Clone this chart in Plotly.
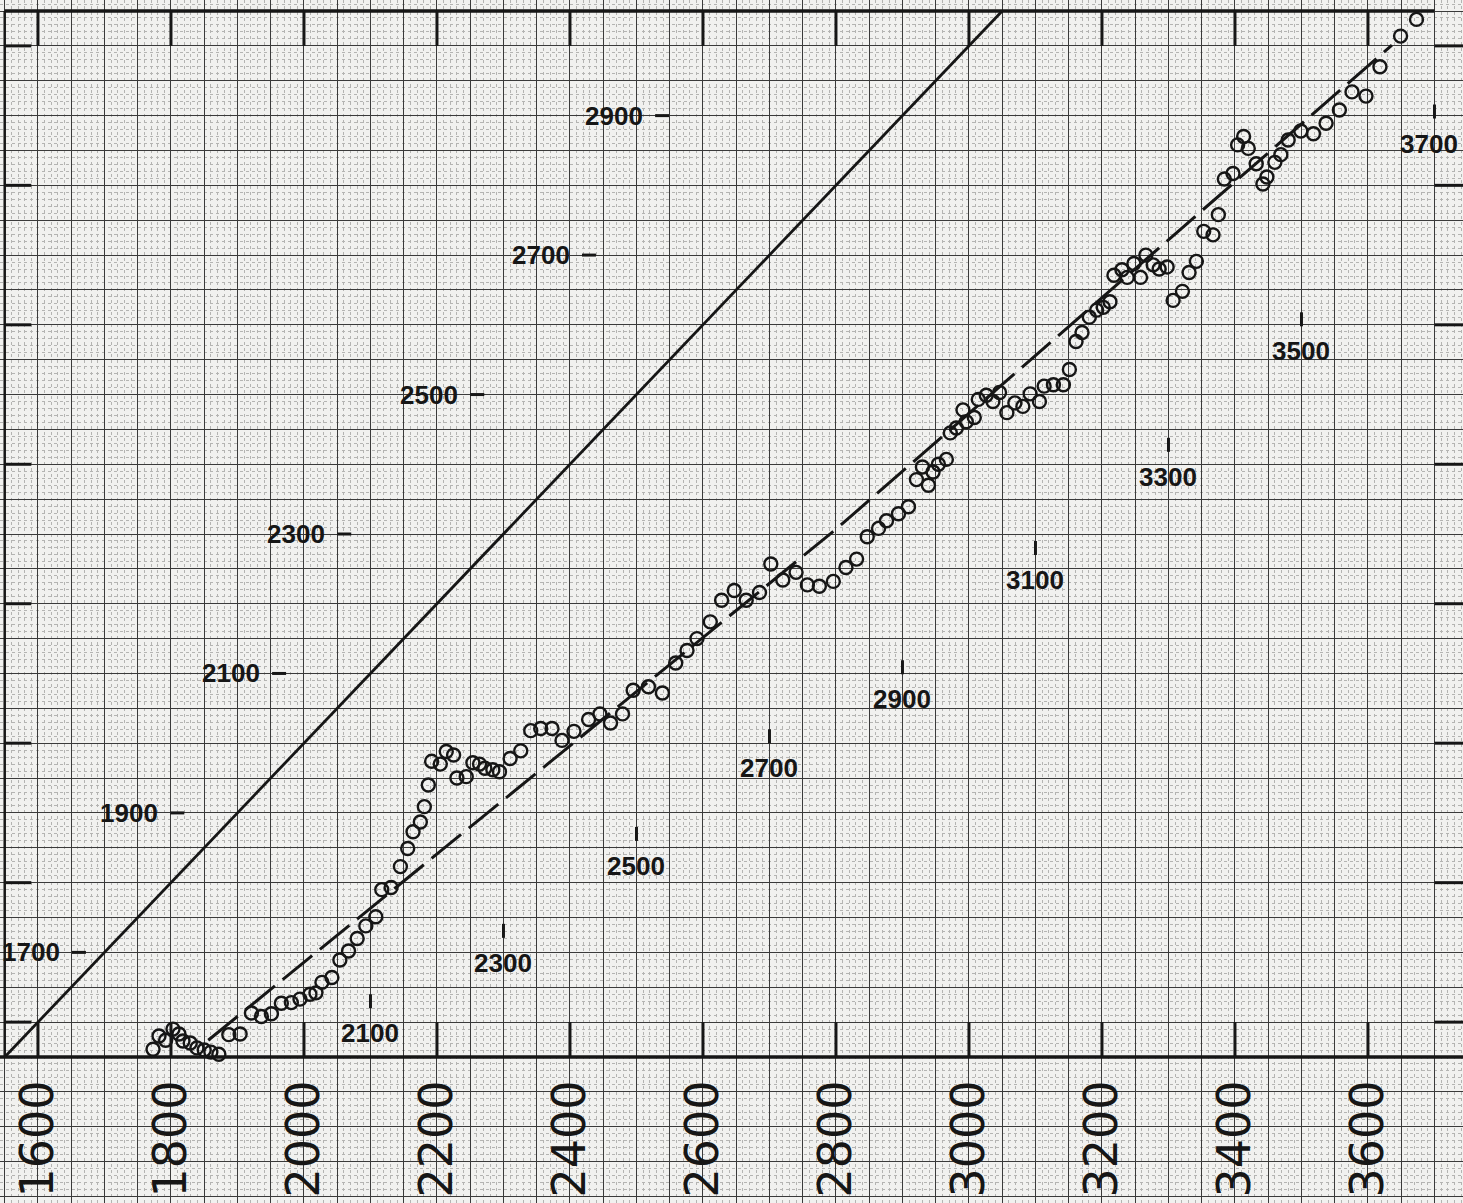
import plotly.graph_objects as go

# Observed readings (open circles)
obs_x = [1773, 1782, 1792, 1803, 1812, 1818, 1829, 1839, 1850, 1860, 1872, 1887, 1904,
         1921, 1936, 1951, 1966, 1981, 1994, 2009, 2018, 2027, 2042, 2054, 2067, 2080,
         2093, 2108, 2117, 2131, 2145, 2156, 2164, 2175, 2181, 2187, 2192, 2205, 2214,
         2225, 2230, 2244, 2254, 2264, 2272, 2284, 2294, 2310, 2326, 2341, 2356, 2373,
         2388, 2406, 2428, 2445, 2461, 2479, 2495, 2518, 2539, 2559, 2576, 2591, 2611,
         2628, 2647, 2665, 2685, 2702, 2720, 2740, 2757, 2775, 2796, 2815, 2831, 2847,
         2864, 2876, 2894, 2909, 2921, 2930, 2939, 2946, 2954, 2966, 2972, 2981, 2991,
         2996, 3008, 3014, 3026, 3036, 3046, 3057, 3069, 3081, 3092, 3106, 3113, 3127,
         3142, 3151, 3161, 3170, 3181, 3192, 3202, 3212, 3218, 3230, 3238, 3248, 3258,
         3266, 3277, 3286, 3298, 3307, 3321, 3331, 3342, 3353, 3367, 3375, 3384, 3397,
         3404, 3413, 3420, 3432, 3442, 3448, 3460, 3469, 3480, 3499, 3518, 3537, 3557,
         3576, 3597, 3618, 3649, 3673]
obs_y = [1561, 1580, 1574, 1590, 1583, 1573, 1570, 1563, 1560, 1557, 1554, 1582, 1583,
         1613, 1608, 1612, 1627, 1628, 1633, 1640, 1642, 1657, 1664, 1689, 1702, 1720,
         1738, 1751, 1790, 1793, 1823, 1849, 1873, 1887, 1909, 1940, 1974, 1970, 1988,
         1983, 1950, 1952, 1972, 1970, 1964, 1962, 1959, 1978, 1989, 2018, 2021, 2021,
         2004, 2017, 2034, 2042, 2029, 2042, 2076, 2081, 2072, 2115, 2133, 2150, 2174,
         2205, 2219, 2205, 2216, 2257, 2234, 2245, 2227, 2225, 2232, 2252, 2264, 2296,
         2308, 2319, 2329, 2339, 2378, 2396, 2370, 2389, 2400, 2407, 2445, 2452, 2478,
         2461, 2467, 2493, 2499, 2490, 2503, 2474, 2488, 2483, 2501, 2490, 2512, 2514,
         2514, 2536, 2576, 2589, 2611, 2621, 2625, 2633, 2671, 2679, 2668, 2688, 2668,
         2700, 2686, 2680, 2683, 2635, 2648, 2675, 2691, 2734, 2729, 2758, 2809, 2817,
         2858, 2870, 2853, 2831, 2802, 2812, 2833, 2844, 2865, 2878, 2874, 2889, 2908,
         2934, 2928, 2970, 3014, 3038]

# Fitted trend (dashed) and the line of equality
fit_x = [1856, 2799, 3636]
fit_y = [1574, 2306, 3001]
equal_xy = [1550, 3050]

# Scale marks
edge_ticks_x = [1600, 1800, 2000, 2200, 2400, 2600, 2800, 3000, 3200, 3400, 3600]
edge_ticks_y = [1600, 1800, 2000, 2200, 2400, 2600, 2800, 3000]
y_labels = [1700, 1900, 2100, 2300, 2500, 2700, 2900]
slant_labels = [2100, 2300, 2500, 2700, 2900, 3100, 3300, 3500, 3700]

# Placement of the hand-lettered labels
y_label_right = [1636, 1784, 1937, 2035, 2235, 2403, 2513]
slant_label_x = [2100, 2300, 2500, 2700, 2900, 3100, 3300, 3500, 3692]
slant_label_y = [1584, 1685, 1824, 1964, 2063, 2234, 2382, 2562, 2860]

PX_X = 0.665    # pixels per unit, horizontal
PX_Y = 0.6973   # pixels per unit, vertical
X0, X1 = 1550, 3700
Y0, Y1 = 1550, 3050
X_RANGE = [1542.9, 3742.9]
Y_RANGE = [1340.6, 3065.8]
INK = "#161616"
LABEL_FONT = dict(family="Liberation Sans, Arial, sans-serif", size=26, color=INK,
                  weight="bold")
SCALE_FONT = dict(family="DejaVu Sans", size=46, color=INK)

fig = go.Figure()

fig.add_trace(go.Scatter(x=equal_xy, y=equal_xy, mode="lines",
                         line=dict(color=INK, width=2.8), hoverinfo="skip"))
fig.add_trace(go.Scatter(x=fit_x, y=fit_y, mode="lines",
                         line=dict(color=INK, width=3, dash="38px,10px"), hoverinfo="skip"))
fig.add_trace(go.Scatter(x=obs_x, y=obs_y, mode="markers",
                         marker=dict(symbol="circle-open", size=13, color=INK,
                                     line=dict(color=INK, width=2.4))))

shapes = []


def seg(x0, y0, x1, y1, w=3):
    shapes.append(dict(type="line", xref="x", yref="y", x0=x0, y0=y0, x1=x1, y1=y1,
                       line=dict(color=INK, width=w)))


# frame
seg(X0, Y1, X1, Y1, 3.5)
seg(X0, Y0, X0, Y1, 2.5)
seg(X_RANGE[0], Y0, X_RANGE[1], Y0, 3.5)

tick_x = 50
tick_y = 40
for t in edge_ticks_x:
    seg(t, Y1, t, Y1 - tick_x, 3)
    seg(t, Y0, t, Y0 + tick_x, 3)
for t in edge_ticks_y:
    seg(X0, t, X0 + tick_y, t, 3)
    seg(X1, t, X_RANGE[1], t, 3)

annotations = []
for val, xr in zip(y_labels, y_label_right):
    annotations.append(dict(x=xr, y=val, xref="x", yref="y", text=str(val),
                            showarrow=False, xanchor="right", yanchor="middle",
                            font=LABEL_FONT))
    seg(xr + 10 / PX_X, val, xr + 24 / PX_X, val, 3)

for val, xc, yc in zip(slant_labels, slant_label_x, slant_label_y):
    annotations.append(dict(x=xc, y=yc, xref="x", yref="y", text=str(val),
                            showarrow=False, xanchor="center", yanchor="middle",
                            font=LABEL_FONT))
    seg(val, yc + 25 / PX_Y, val, yc + 39 / PX_Y, 3)

for val in edge_ticks_x:
    annotations.append(dict(x=val, y=Y0 - 21 / PX_Y, xref="x", yref="y", text=str(val),
                            showarrow=False, textangle=-90, xanchor="center",
                            yanchor="top", font=SCALE_FONT))

axis_common = dict(showticklabels=False, ticks="", zeroline=False, showline=False,
                   showgrid=True, gridcolor="#3a3a3a", gridwidth=1.3, fixedrange=True)
minor_grid = dict(tick0=1550, dtick=10, showgrid=True, gridcolor="#b4b4b2",
                  gridwidth=1, griddash="dot")

fig.update_layout(
    width=1463, height=1203, autosize=False,
    margin=dict(l=0, r=0, t=0, b=0, pad=0),
    paper_bgcolor="#f1f1ef", plot_bgcolor="#f1f1ef",
    showlegend=False,
    shapes=shapes, annotations=annotations,
    xaxis=dict(range=X_RANGE, tick0=1550, dtick=50, minor=minor_grid, **axis_common),
    yaxis=dict(range=Y_RANGE, tick0=1550, dtick=50, minor=minor_grid, **axis_common),
)

fig.write_html("out.html")
